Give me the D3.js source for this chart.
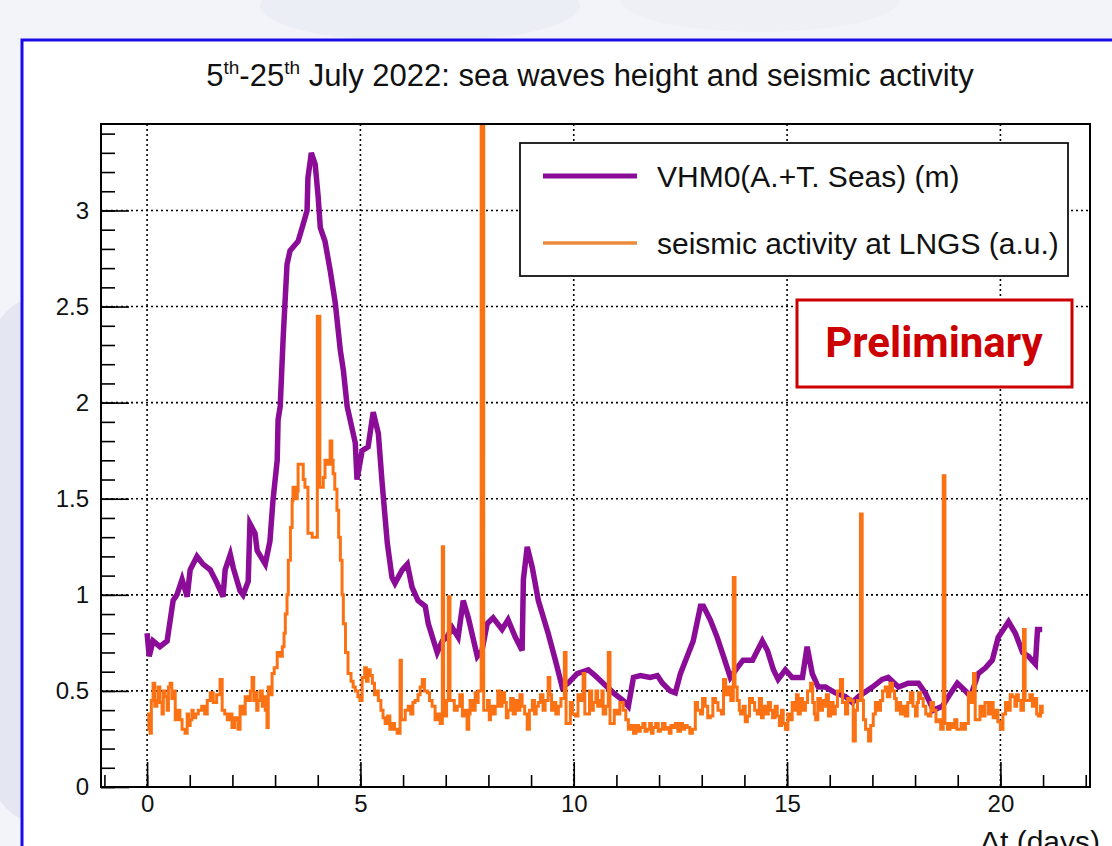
<!DOCTYPE html>
<html>
<head>
<meta charset="utf-8">
<script src="https://cdn.jsdelivr.net/npm/d3@7"></script>
<style>
  html, body { margin: 0; padding: 0; background: #eef0f6; }
  svg { display: block; }
  text { font-family: "Liberation Sans", Arial, sans-serif; fill: #111; }
</style>
</head>
<body>
<div id="chart"></div>
<script>
// VHM0 wave height, Adriatic + Tyrrhenian seas (m)
const vhmDays = [0.00, 0.05, 0.14, 0.30, 0.47, 0.61, 0.70, 0.82, 0.94, 1.01, 1.17, 1.31, 1.48, 1.64, 1.78, 1.83,
  1.95, 2.02, 2.18, 2.25, 2.37, 2.41, 2.53, 2.58, 2.77, 2.88, 2.95, 3.05, 3.07, 3.12, 3.19, 3.28, 3.35, 3.54,
  3.66, 3.75, 3.77, 3.85, 3.94, 4.01, 4.06, 4.17, 4.29, 4.41, 4.53, 4.60, 4.69, 4.88, 4.92, 5.04, 5.18, 5.30,
  5.42, 5.51, 5.63, 5.74, 5.81, 5.98, 6.10, 6.21, 6.35, 6.52, 6.59, 6.80, 6.92, 7.03, 7.15, 7.29, 7.41, 7.53,
  7.74, 7.85, 7.97, 8.11, 8.32, 8.46, 8.63, 8.79, 8.82, 8.91, 9.03, 9.17, 9.40, 9.57, 9.73, 9.87, 10.08, 10.34,
  10.50, 10.69, 10.93, 11.16, 11.28, 11.40, 11.56, 11.79, 11.96, 12.08, 12.26, 12.38, 12.50, 12.66, 12.80,
  12.97, 13.04, 13.20, 13.36, 13.51, 13.67, 13.83, 13.97, 14.19, 14.42, 14.54, 14.68, 14.79, 14.96, 15.12,
  15.36, 15.47, 15.59, 15.73, 15.90, 16.13, 16.37, 16.53, 16.67, 17.00, 17.23, 17.37, 17.61, 17.84, 18.08,
  18.24, 18.43, 18.64, 18.78, 18.99, 19.18, 19.30, 19.48, 19.65, 19.81, 19.95, 20.07, 20.19, 20.35, 20.52,
  20.66, 20.82, 20.87, 20.98];
const vhmHeight = [0.80, 0.68, 0.76, 0.73, 0.76, 0.97, 1.00, 1.08, 0.99, 1.13, 1.20, 1.16, 1.13, 1.06, 0.99, 1.13,
  1.21, 1.14, 1.02, 1.00, 1.07, 1.37, 1.32, 1.23, 1.16, 1.28, 1.49, 1.70, 1.91, 1.98, 2.34, 2.72, 2.79, 2.84,
  2.93, 3.00, 3.17, 3.30, 3.24, 3.07, 2.91, 2.84, 2.69, 2.52, 2.27, 2.17, 1.98, 1.79, 1.60, 1.75, 1.77, 1.95,
  1.84, 1.58, 1.27, 1.09, 1.06, 1.13, 1.16, 1.04, 0.97, 0.94, 0.85, 0.70, 0.76, 0.78, 0.83, 0.78, 0.97, 0.88,
  0.68, 0.71, 0.85, 0.88, 0.82, 0.87, 0.78, 0.71, 1.08, 1.25, 1.14, 0.97, 0.80, 0.66, 0.52, 0.54, 0.59, 0.61,
  0.58, 0.54, 0.49, 0.45, 0.42, 0.57, 0.58, 0.57, 0.58, 0.54, 0.50, 0.49, 0.59, 0.68, 0.76,
  0.94, 0.94, 0.87, 0.78, 0.68, 0.57, 0.62, 0.66, 0.66, 0.76, 0.71, 0.61, 0.56, 0.61, 0.57,
  0.57, 0.73, 0.59, 0.52, 0.52, 0.49, 0.47, 0.44, 0.47, 0.52, 0.56, 0.57, 0.52, 0.54, 0.54,
  0.49, 0.40, 0.42, 0.47, 0.54, 0.50, 0.47, 0.59, 0.62, 0.66, 0.78, 0.82, 0.86, 0.80, 0.70,
  0.68, 0.64, 0.82, 0.82];

// seismic activity at LNGS (a.u.), ten readings per row
const seismicDays = [
  0.00, 0.04, 0.07, 0.10, 0.14, 0.18, 0.23, 0.26, 0.30, 0.35,
  0.38, 0.42, 0.47, 0.50, 0.54, 0.58, 0.61, 0.66, 0.71, 0.77,
  0.82, 0.89, 0.94, 0.97, 1.01, 1.05, 1.08, 1.14, 1.20, 1.28,
  1.35, 1.41, 1.48, 1.55, 1.63, 1.71, 1.76, 1.82, 1.88, 1.94,
  1.99, 2.05, 2.11, 2.13, 2.18, 2.24, 2.30, 2.37, 2.42, 2.46,
  2.50, 2.53, 2.57, 2.60, 2.65, 2.70, 2.74, 2.77, 2.81, 2.84,
  2.88, 2.93, 2.98, 3.05, 3.10, 3.17, 3.21, 3.24, 3.28, 3.31,
  3.36, 3.40, 3.42, 3.47, 3.52, 3.54, 3.63, 3.66, 3.70, 3.77,
  3.87, 3.94, 3.99, 4.05, 4.13, 4.17, 4.22, 4.29, 4.33, 4.36,
  4.40, 4.45, 4.49, 4.53, 4.57, 4.60, 4.65, 4.71, 4.78, 4.83,
  4.88, 4.94, 4.99, 5.04, 5.10, 5.14, 5.18, 5.23, 5.28, 5.33,
  5.38, 5.42, 5.48, 5.53, 5.58, 5.64, 5.69, 5.74, 5.80, 5.86,
  5.93, 5.96, 6.05, 6.12, 6.18, 6.23, 6.28, 6.35, 6.40, 6.45,
  6.50, 6.57, 6.62, 6.68, 6.75, 6.80, 6.87, 6.92, 6.95, 7.02,
  7.06, 7.10, 7.20, 7.27, 7.33, 7.39, 7.44, 7.50, 7.54, 7.57,
  7.62, 7.69, 7.73, 7.76, 7.83, 7.89, 7.98, 8.02, 8.05, 8.10,
  8.16, 8.22, 8.27, 8.32, 8.38, 8.42, 8.46, 8.52, 8.58, 8.63,
  8.68, 8.74, 8.79, 8.85, 8.91, 8.96, 9.03, 9.08, 9.12, 9.17,
  9.22, 9.28, 9.33, 9.40, 9.44, 9.48, 9.52, 9.58, 9.64, 9.70,
  9.78, 9.82, 9.92, 9.97, 10.04, 10.10, 10.15, 10.22, 10.26, 10.37,
  10.42, 10.46, 10.52, 10.56, 10.62, 10.66, 10.69, 10.75, 10.81, 10.85,
  10.95, 11.02, 11.08, 11.16, 11.22, 11.28, 11.34, 11.40, 11.46, 11.52,
  11.56, 11.62, 11.67, 11.72, 11.78, 11.82, 11.86, 11.92, 11.98, 12.03,
  12.08, 12.14, 12.19, 12.24, 12.28, 12.33, 12.38, 12.44, 12.50, 12.55,
  12.60, 12.66, 12.72, 12.78, 12.85, 12.90, 12.97, 13.02, 13.08, 13.14,
  13.20, 13.26, 13.32, 13.38, 13.46, 13.51, 13.56, 13.62, 13.68, 13.74,
  13.78, 13.83, 13.88, 13.91, 13.97, 14.02, 14.07, 14.12, 14.19, 14.24,
  14.30, 14.35, 14.40, 14.44, 14.50, 14.56, 14.61, 14.66, 14.72, 14.77,
  14.82, 14.87, 14.91, 14.96, 15.02, 15.08, 15.12, 15.17, 15.22, 15.26,
  15.31, 15.36, 15.43, 15.48, 15.55, 15.60, 15.64, 15.67, 15.72, 15.78,
  15.83, 15.88, 15.92, 15.97, 16.02, 16.08, 16.13, 16.18, 16.25, 16.30,
  16.37, 16.42, 16.48, 16.55, 16.60, 16.65, 16.72, 16.76, 16.79, 16.84,
  16.91, 16.96, 17.02, 17.07, 17.12, 17.19, 17.24, 17.30, 17.35, 17.41,
  17.47, 17.52, 17.56, 17.61, 17.66, 17.72, 17.77, 17.83, 17.89, 17.95,
  18.01, 18.05, 18.08, 18.13, 18.19, 18.25, 18.31, 18.37, 18.43, 18.49,
  18.55, 18.60, 18.66, 18.70, 18.76, 18.82, 18.87, 18.93, 18.98, 19.08,
  19.13, 19.18, 19.25, 19.31, 19.37, 19.41, 19.52, 19.58, 19.64, 19.72,
  19.78, 19.83, 19.88, 19.94, 20.00, 20.06, 20.12, 20.18, 20.23, 20.28,
  20.34, 20.38, 20.42, 20.48, 20.54, 20.58, 20.69, 20.75, 20.80, 20.85,
  20.89, 20.94, 20.98];
const seismicLevel = [
  0.38, 0.30, 0.28, 0.45, 0.54, 0.42, 0.45, 0.52, 0.44, 0.38,
  0.50, 0.47, 0.40, 0.52, 0.54, 0.46, 0.50, 0.35, 0.40, 0.35,
  0.30, 0.28, 0.38, 0.32, 0.35, 0.40, 0.36, 0.38, 0.40, 0.42,
  0.38, 0.45, 0.49, 0.44, 0.48, 0.56, 0.40, 0.38, 0.35, 0.38,
  0.31, 0.36, 0.35, 0.30, 0.42, 0.38, 0.47, 0.45, 0.50, 0.57,
  0.45, 0.49, 0.40, 0.45, 0.50, 0.42, 0.47, 0.40, 0.31, 0.52,
  0.48, 0.59, 0.62, 0.70, 0.68, 0.73, 0.80, 0.90, 1.00, 1.18,
  1.35, 1.49, 1.56, 1.50, 1.54, 1.68, 1.68, 1.60, 1.56, 1.32,
  1.30, 1.30, 2.45, 1.56, 1.61, 1.70, 1.68, 1.80, 1.70, 1.63,
  1.55, 1.44, 1.30, 1.18, 1.00, 0.85, 0.70, 0.59, 0.55, 0.52,
  0.50, 0.47, 0.45, 0.57, 0.62, 0.55, 0.61, 0.58, 0.54, 0.48,
  0.50, 0.45, 0.40, 0.36, 0.33, 0.37, 0.30, 0.33, 0.30, 0.28,
  0.66, 0.35, 0.40, 0.42, 0.38, 0.44, 0.45, 0.48, 0.52, 0.56,
  0.50, 0.49, 0.45, 0.42, 0.35, 0.38, 0.33, 1.25, 0.37, 0.45,
  0.99, 0.45, 0.40, 0.42, 0.48, 0.37, 0.40, 0.30, 0.38, 0.45,
  0.40, 0.49, 0.44, 0.50, 3.60, 0.40, 0.45, 0.35, 0.42, 0.38,
  0.42, 0.50, 0.42, 0.49, 0.44, 0.36, 0.40, 0.46, 0.38, 0.45,
  0.40, 0.48, 0.42, 0.38, 0.30, 0.40, 0.45, 0.38, 0.42, 0.44,
  0.48, 0.40, 0.45, 0.57, 0.48, 0.40, 0.44, 0.38, 0.42, 0.46,
  0.70, 0.33, 0.44, 0.38, 0.37, 0.48, 0.45, 0.59, 0.38, 0.50,
  0.40, 0.44, 0.50, 0.42, 0.45, 0.50, 0.38, 0.42, 0.70, 0.33,
  0.40, 0.38, 0.44, 0.40, 0.35, 0.30, 0.32, 0.28, 0.32, 0.29,
  0.31, 0.33, 0.29, 0.30, 0.33, 0.28, 0.31, 0.33, 0.29, 0.30,
  0.33, 0.30, 0.31, 0.28, 0.32, 0.31, 0.33, 0.29, 0.33, 0.30,
  0.32, 0.31, 0.28, 0.30, 0.44, 0.40, 0.38, 0.46, 0.42, 0.36,
  0.37, 0.46, 0.44, 0.40, 0.38, 0.56, 0.48, 0.52, 0.45, 1.09,
  0.52, 0.45, 0.40, 0.38, 0.42, 0.34, 0.37, 0.46, 0.44, 0.40,
  0.38, 0.46, 0.36, 0.42, 0.38, 0.44, 0.40, 0.36, 0.42, 0.37,
  0.32, 0.40, 0.33, 0.30, 0.38, 0.35, 0.44, 0.40, 0.48, 0.38,
  0.46, 0.40, 0.44, 0.50, 0.54, 0.44, 0.38, 0.35, 0.46, 0.40,
  0.45, 0.42, 0.48, 0.37, 0.44, 0.38, 0.42, 0.50, 0.56, 0.44,
  0.38, 0.46, 0.45, 0.24, 0.40, 0.45, 1.42, 0.45, 0.35, 0.30,
  0.24, 0.32, 0.38, 0.44, 0.40, 0.45, 0.50, 0.52, 0.47, 0.54,
  0.50, 0.46, 0.40, 0.44, 0.38, 0.42, 0.37, 0.44, 0.49, 0.42,
  0.37, 0.44, 0.49, 0.46, 0.42, 0.38, 0.37, 0.44, 0.40, 0.34,
  0.35, 0.30, 1.62, 0.33, 0.30, 0.33, 0.31, 0.35, 0.30, 0.33,
  0.30, 0.33, 0.49, 0.44, 0.59, 0.35, 0.42, 0.37, 0.44, 0.38,
  0.44, 0.36, 0.40, 0.34, 0.30, 0.38, 0.44, 0.40, 0.48, 0.47,
  0.42, 0.48, 0.45, 0.40, 0.82, 0.45, 0.48, 0.42, 0.46, 0.38,
  0.37, 0.42, 0.38];

const xMajorTicks = [0, 5, 10, 15, 20];
const yMajorTicks = [0, 0.5, 1, 1.5, 2, 2.5, 3];
const legendLabels = ['VHM0(A.+T. Seas) (m)', 'seismic activity at LNGS (a.u.)'];

const width = 1112, height = 846;
const plot = { left: 101, top: 124, right: 1090, bottom: 787 };
const purple = '#8b0c97', orange = '#fa7214';

const svg = d3.select('#chart').append('svg')
  .attr('width', width)
  .attr('height', height);

// faint watermark behind the slide frame
svg.append('rect').attr('width', width).attr('height', height).attr('fill', '#f3f4f9');
svg.append('ellipse').attr('cx', 30).attr('cy', 560).attr('rx', 80).attr('ry', 260).attr('fill', '#e4e7f1');
svg.append('ellipse').attr('cx', 420).attr('cy', 6).attr('rx', 160).attr('ry', 36).attr('fill', '#eceef5');
svg.append('ellipse').attr('cx', 760).attr('cy', 0).attr('rx', 140).attr('ry', 32).attr('fill', '#eef0f6');

// blue slide frame
svg.append('rect')
  .attr('x', 22).attr('y', 40)
  .attr('width', 1100).attr('height', 820)
  .attr('fill', '#ffffff')
  .attr('stroke', '#1a0ae6')
  .attr('stroke-width', 3);

const x = d3.scaleLinear().domain([-1.08, 22.1]).range([plot.left, plot.right]);
const y = d3.scaleLinear().domain([0, 3.45]).range([plot.bottom, plot.top]);

// title
const title = svg.append('text')
  .attr('x', 590).attr('y', 86)
  .attr('text-anchor', 'middle')
  .style('font-size', '31px');
title.append('tspan').text('5');
title.append('tspan').attr('dy', -12).style('font-size', '19px').text('th');
title.append('tspan').attr('dy', 12).text('-25');
title.append('tspan').attr('dy', -12).style('font-size', '19px').text('th');
title.append('tspan').attr('dy', 12).text(' July 2022: sea waves height and seismic activity');

// grid
const grid = svg.append('g')
  .attr('stroke', '#000')
  .attr('stroke-width', 1.6)
  .attr('stroke-dasharray', '2,3');
grid.selectAll('.vgrid')
  .data(xMajorTicks)
  .enter().append('line')
  .attr('x1', d => x(d)).attr('x2', d => x(d))
  .attr('y1', plot.top).attr('y2', plot.bottom);
grid.selectAll('.hgrid')
  .data(yMajorTicks.filter(d => d > 0))
  .enter().append('line')
  .attr('x1', plot.left).attr('x2', plot.right)
  .attr('y1', d => y(d)).attr('y2', d => y(d));

// axes, ticks point into the frame like ROOT
const xAxis = svg.append('g')
  .attr('transform', 'translate(0,' + plot.bottom + ')')
  .call(d3.axisBottom(x).tickValues(xMajorTicks).tickSize(-25).tickPadding(8));
svg.append('g')
  .attr('transform', 'translate(0,' + plot.bottom + ')')
  .call(d3.axisBottom(x).tickValues(d3.range(-1, 23)).tickSize(-12).tickFormat(''));

const yAxis = svg.append('g')
  .attr('transform', 'translate(' + plot.left + ',0)')
  .call(d3.axisLeft(y).tickValues(yMajorTicks).tickSize(-28).tickPadding(12).tickFormat(d3.format('')));
svg.append('g')
  .attr('transform', 'translate(' + plot.left + ',0)')
  .call(d3.axisLeft(y).tickValues(d3.range(0, 35).map(d => d / 10)).tickSize(-14).tickFormat(''));

svg.selectAll('.domain').remove();
svg.selectAll('.tick line').attr('stroke', '#000').attr('stroke-width', 1.6);
xAxis.selectAll('text').style('font-size', '24px').attr('fill', '#111');
yAxis.selectAll('text').style('font-size', '24px').attr('fill', '#111');

// data lines
svg.append('clipPath').attr('id', 'plot-clip')
  .append('rect')
  .attr('x', plot.left).attr('y', plot.top)
  .attr('width', plot.right - plot.left).attr('height', plot.bottom - plot.top);

const vhm = vhmDays.map((d, i) => ({ t: d, v: vhmHeight[i] }));
const seismic = seismicDays.map((d, i) => ({ t: d, v: seismicLevel[i] }));

const vhmLine = d3.line().x(d => x(d.t)).y(d => y(d.v));
const seismicLine = d3.line().x(d => x(d.t)).y(d => y(d.v)).curve(d3.curveStepAfter);

const lines = svg.append('g').attr('clip-path', 'url(#plot-clip)');
lines.append('path')
  .datum(vhm)
  .attr('d', vhmLine)
  .attr('fill', 'none')
  .attr('stroke', purple)
  .attr('stroke-width', 5.5)
  .attr('stroke-linejoin', 'miter');
lines.append('path')
  .datum(seismic)
  .attr('d', seismicLine)
  .attr('fill', 'none')
  .attr('stroke', orange)
  .attr('stroke-width', 3);

// frame
svg.append('rect')
  .attr('x', plot.left).attr('y', plot.top)
  .attr('width', plot.right - plot.left).attr('height', plot.bottom - plot.top)
  .attr('fill', 'none')
  .attr('stroke', '#000')
  .attr('stroke-width', 2);

// x axis title (cut by the slide edge, as in the source)
svg.append('text')
  .attr('x', 1100).attr('y', 852)
  .attr('text-anchor', 'end')
  .style('font-size', '30px')
  .text('\u0394t (days)');

// legend
const legend = svg.append('g');
legend.append('rect')
  .attr('x', 520).attr('y', 143)
  .attr('width', 548).attr('height', 133)
  .attr('fill', '#fff')
  .attr('stroke', '#111')
  .attr('stroke-width', 1.8);
const legendRows = legend.selectAll('.row')
  .data(legendLabels)
  .enter().append('g')
  .attr('transform', (d, i) => 'translate(0,' + (176 + i * 67) + ')');
legendRows.append('line')
  .attr('x1', 543).attr('x2', 637)
  .attr('stroke', (d, i) => i === 0 ? purple : '#ec8a3c')
  .attr('stroke-width', (d, i) => i === 0 ? 5 : 3.5);
legendRows.append('text')
  .attr('x', 657).attr('y', 11)
  .style('font-size', '30px')
  .text(d => d);

// "Preliminary" stamp
svg.append('rect')
  .attr('x', 797).attr('y', 300)
  .attr('width', 275).attr('height', 87)
  .attr('fill', '#fff')
  .attr('stroke', '#cc0000')
  .attr('stroke-width', 3);
svg.append('text')
  .attr('x', 934).attr('y', 357)
  .attr('text-anchor', 'middle')
  .style('font-family', 'Roboto, sans-serif')
  .style('font-weight', 'bold')
  .style('font-size', '42px')
  .style('fill', '#cc0000')
  .text('Preliminary');
</script>
</body>
</html>
